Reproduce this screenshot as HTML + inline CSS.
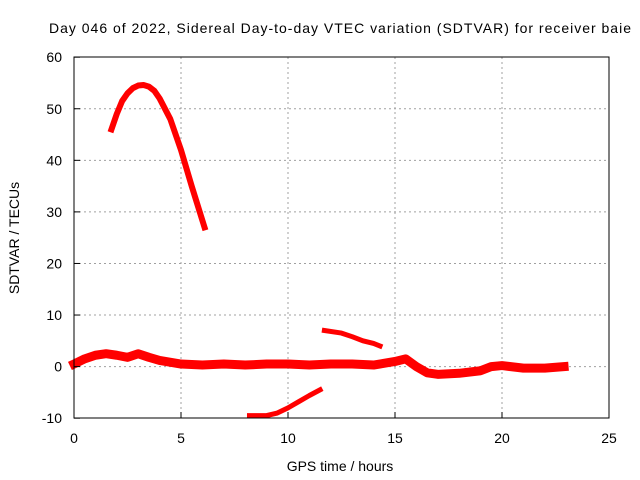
<!DOCTYPE html>
<html><head><meta charset="utf-8"><style>
body{margin:0;background:#fff;}
svg{display:block;font-family:"Liberation Sans",sans-serif;}
</style></head><body>
<svg id="chart" width="640" height="480">
<text x="340" y="33" text-anchor="middle" font-size="14" textLength="582">Day 046 of 2022, Sidereal Day-to-day VTEC variation (SDTVAR) for receiver baie</text>
<text transform="translate(19,238) rotate(-90)" text-anchor="middle" font-size="14">SDTVAR / TECUs</text>
<text x="340" y="471" text-anchor="middle" font-size="14">GPS time / hours</text>
<g id="grid"></g><g id="series"></g><g id="axes"></g>
</svg>
<script>
const xTicks=[0,5,10,15,20,25];
const yTicks=[-10,0,10,20,30,40,50,60];
const mainHours=[0,0.5,1,1.5,2,2.5,3,3.5,4,5,6,7,8,9,10,11,12,13,14,15,15.5,16,16.5,17,18,19,19.5,20,21,22,22.9];
const mainValues=[0.5,1.5,2.2,2.5,2.2,1.8,2.5,1.8,1.2,0.5,0.3,0.5,0.3,0.5,0.5,0.3,0.5,0.5,0.3,1,1.5,0,-1.2,-1.5,-1.3,-0.8,0,0.2,-0.3,-0.3,0];
const archHours=[1.75,2,2.25,2.5,2.75,3,3.25,3.5,3.75,4,4.5,5,5.5,6.1];
const archValues=[46,49,51.5,53,54,54.5,54.6,54.3,53.5,52,48,42,35,27];
const lowHours=[8.2,9,9.5,10,10.5,11,11.5];
const lowValues=[-9.5,-9.5,-9,-8,-6.8,-5.6,-4.5];
const upHours=[11.7,12.5,13,13.5,14,14.3];
const upValues=[7,6.5,5.8,5,4.5,4];
const X=h=>74+h*21.4, Y=v=>366.6-v*5.157;
const NS="http://www.w3.org/2000/svg";
function mk(t,a,p){const e=document.createElementNS(NS,t);for(const k in a)e.setAttribute(k,a[k]);p.appendChild(e);return e;}
const grid=document.getElementById('grid'),axes=document.getElementById('axes'),ser=document.getElementById('series');
xTicks.forEach(t=>{
 if(t>0&&t<25){const g=mk('line',{x1:X(t),x2:X(t),y1:57,y2:418,stroke:'#a0a0a0','stroke-dasharray':'2,3'},grid);
 
 }
 const tk=mk('line',{x1:X(t),x2:X(t),y1:418,y2:412,stroke:'#000'},axes);
 
 
 const l=mk('text',{x:X(t),y:443,'text-anchor':'middle','font-size':14},axes);l.textContent=t;
 
 
});
yTicks.forEach(t=>{
 if(t>-10&&t<60){const g=mk('line',{x1:74,x2:609,y1:Y(t),y2:Y(t),stroke:'#a0a0a0','stroke-dasharray':'2,3'},grid);
 
 }
 const tk=mk('line',{x1:74,x2:80,y1:Y(t),y2:Y(t),stroke:'#000'},axes);
 
 
 const l=mk('text',{x:62,y:Y(t)+5,'text-anchor':'end','font-size':14},axes);l.textContent=t;
 
 
});
const fr=mk('rect',{x:74,y:57,width:535,height:361,fill:'none',stroke:'#000'},axes);


function line(hs,vs,w,name){
 const p=mk('polyline',{points:hs.map((h,i)=>X(h)+','+Y(vs[i])).join(' '),fill:'none',stroke:'#ff0000','stroke-width':w,'stroke-linejoin':'round','stroke-linecap':'square'},ser);
 
 
}
line(mainHours,mainValues,9,'series-main');
line(archHours,archValues,6,'series-arch');
line(lowHours,lowValues,5,'series-low');
line(upHours,upValues,5,'series-upper');
</script>
</body></html>
